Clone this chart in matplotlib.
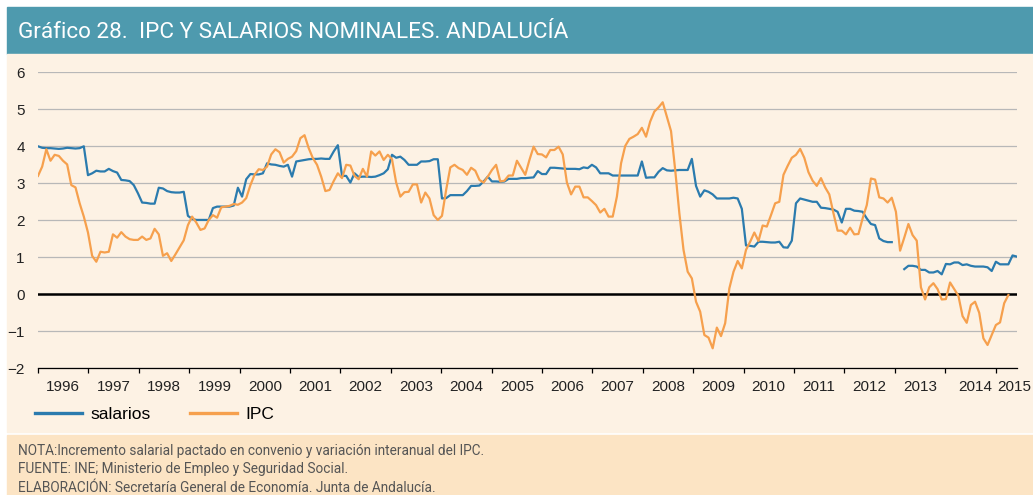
import numpy as np
import matplotlib
matplotlib.use("Agg")
import matplotlib.pyplot as plt
from matplotlib.patches import Rectangle
from matplotlib.lines import Line2D

nan = np.nan

# Incremento salarial pactado en convenio (%), mensual desde enero 1996
salarios = [
    4.00, 3.96, 3.95, 3.95, 3.94, 3.93, 3.94, 3.96, 3.95, 3.94, 3.95, 4.00,
    3.22, 3.27, 3.34, 3.32, 3.32, 3.39, 3.33, 3.29, 3.09, 3.08, 3.06, 2.95,
    2.73, 2.48, 2.47, 2.45, 2.45, 2.88, 2.86, 2.79, 2.76, 2.75, 2.75, 2.77,
    2.12, 2.04, 2.01, 2.01, 2.01, 2.01, 2.33, 2.37, 2.37, 2.37, 2.37, 2.40,
    2.88, 2.64, 3.11, 3.25, 3.24, 3.24, 3.27, 3.54, 3.51, 3.50, 3.47, 3.45,
    3.50, 3.18, 3.59, 3.61, 3.63, 3.65, 3.66, 3.66, 3.67, 3.66, 3.66, 3.86,
    4.03, 3.20, 3.20, 3.02, 3.27, 3.17, 3.18, 3.18, 3.17, 3.18, 3.22, 3.27,
    3.38, 3.77, 3.69, 3.72, 3.63, 3.50, 3.50, 3.50, 3.59, 3.59, 3.60, 3.65,
    3.65, 2.59, 2.60, 2.68, 2.68, 2.68, 2.68, 2.79, 2.93, 2.93, 2.94, 3.05,
    3.18, 3.05, 3.05, 3.04, 3.05, 3.12, 3.12, 3.12, 3.14, 3.14, 3.15, 3.16,
    3.33, 3.25, 3.25, 3.42, 3.42, 3.41, 3.40, 3.39, 3.39, 3.39, 3.38, 3.43,
    3.41, 3.50, 3.43, 3.27, 3.27, 3.27, 3.21, 3.21, 3.21, 3.21, 3.21, 3.21,
    3.21, 3.59, 3.15, 3.16, 3.16, 3.31,
    3.41, 3.35, 3.34, 3.35, 3.36, 3.36, 3.36, 3.66, 2.93, 2.64, 2.81, 2.77,
    2.70, 2.59, 2.59, 2.59, 2.59, 2.61, 2.59, 2.31, 1.32, 1.31, 1.29, 1.42,
    1.42, 1.41, 1.40, 1.40, 1.42, 1.27, 1.26, 1.45, 2.46, 2.59, 2.56, 2.53,
    2.50, 2.50, 2.34, 2.33, 2.31, 2.29, 2.23, 1.94, 2.31, 2.31, 2.26, 2.25,
    2.23, 2.05, 1.90, 1.87, 1.51, 1.44, 1.41, 1.41, nan, nan, 0.68, 0.77,
    0.77, 0.75, 0.66, 0.66, 0.59, 0.59, 0.63, 0.54, 0.82, 0.81, 0.86, 0.86,
    0.79, 0.81, 0.77, 0.75, 0.75, 0.75, 0.73, 0.63, 0.88, 0.81, 0.81, 0.81,
    1.05, 1.02,
]

# Variación interanual del IPC (%)
ipc = [
    3.20, 3.45, 3.92, 3.61, 3.77, 3.74, 3.61, 3.51, 2.95, 2.89, 2.46, 2.10,
    1.67, 1.04, 0.88, 1.15, 1.13, 1.15, 1.62, 1.53, 1.68, 1.56, 1.49, 1.47,
    1.47, 1.56, 1.47, 1.51, 1.77, 1.62, 1.04, 1.11, 0.90, 1.08, 1.27, 1.46,
    1.87, 2.10, 1.94, 1.74, 1.78, 2.01, 2.14, 2.07, 2.35, 2.37, 2.39, 2.44,
    2.42, 2.48, 2.60, 2.95, 3.23, 3.38, 3.36, 3.45, 3.78, 3.92, 3.84, 3.56,
    3.66, 3.72, 3.87, 4.22, 4.30, 3.95, 3.68, 3.50, 3.18, 2.79, 2.82, 3.06,
    3.27, 3.14, 3.50, 3.48, 3.20, 3.11, 3.39, 3.18, 3.86, 3.75, 3.86, 3.63,
    3.77, 3.65, 3.02, 2.64, 2.76, 2.77, 2.97, 2.97, 2.48, 2.75, 2.59, 2.14,
    2.01, 2.12, 2.82, 3.43, 3.50, 3.41, 3.36, 3.23, 3.42, 3.34, 3.09, 3.02,
    3.18, 3.36, 3.50, 3.05, 3.07, 3.21, 3.21, 3.61, 3.42, 3.23, 3.63, 3.99,
    3.79, 3.78, 3.70, 3.90, 3.90, 3.99, 3.78, 3.02, 2.70, 2.91, 2.91, 2.62,
    2.62, 2.52, 2.41, 2.21, 2.31, 2.10, 2.10, 2.64, 3.54, 4.01, 4.20, 4.26,
    4.33, 4.50, 4.26, 4.67, 4.94, 5.05,
    5.19, 4.80, 4.41, 3.36, 2.19, 1.20, 0.61, 0.43, -0.20, -0.47, -1.10, -1.17,
    -1.46, -0.90, -1.13, -0.78, 0.16, 0.61, 0.90, 0.70, 1.20, 1.42, 1.67, 1.44,
    1.86, 1.83, 2.14, 2.46, 2.50, 3.23, 3.47, 3.69, 3.77, 3.93, 3.69, 3.30,
    3.07, 2.93, 3.14, 2.89, 2.70, 2.19, 1.72, 1.72, 1.62, 1.80, 1.62, 1.63,
    2.05, 2.41, 3.13, 3.10, 2.62, 2.59, 2.48, 2.61, 2.23, 1.18, 1.53, 1.90,
    1.60, 1.45, 0.19, -0.14, 0.19, 0.30, 0.14, -0.14, -0.13, 0.32, 0.14, -0.04,
    -0.59, -0.77, -0.29, -0.20, -0.50, -1.19, -1.37, -1.10, -0.83, -0.76, -0.24, -0.02,
    nan, nan,
]

years = list(range(1996, 2016))
year_labels = [str(y) for y in years]
# los dos últimos rótulos van desplazados para no solaparse al final del eje
label_pos = [y + 0.5 for y in years[:-2]] + [2014.6, 2015.38]
y_ticks = list(range(-2, 7))

first_obs, last_obs = 1996.0, 2015.42

BLUE = "#2B7BAE"
ORANGE = "#F6A04D"
TEAL = "#4E9AAE"
CREAM = "#FDF2E4"
PEACH = "#FCE4C4"

W, H = 1033, 495


def fx(px):
    return px / W


def fy(py):
    return 1 - py / H


plt.rcParams['font.family'] = ['Liberation Sans Narrow', 'Liberation Sans', 'DejaVu Sans']

fig = plt.figure(figsize=(W / 100, H / 100), dpi=100)
fig.patch.set_facecolor("white")

# bloques de fondo: cabecera, zona del gráfico y nota al pie
fig.add_artist(Rectangle((fx(6.7), fy(53.5)), 1 - fx(6.7), fy(7.3) - fy(53.5),
                         transform=fig.transFigure, color=TEAL, zorder=0))
fig.add_artist(Rectangle((fx(6.7), fy(432.3)), 1 - fx(6.7), fy(53.5) - fy(432.3),
                         transform=fig.transFigure, color=CREAM, zorder=0))
fig.add_artist(Rectangle((fx(6.7), 0), 1 - fx(6.7), fy(435),
                         transform=fig.transFigure, color=PEACH, zorder=0))

ax = fig.add_axes([fx(38), fy(368.3), fx(1016.7) - fx(38), fy(72.3) - fy(368.3)])
ax.set_facecolor("none")

x = np.linspace(first_obs, last_obs, len(salarios))
ax.plot(x, salarios, color=BLUE, lw=1.6, zorder=3)
ax.plot(x, ipc, color=ORANGE, lw=1.6, zorder=3)
ax.axhline(0, color="black", lw=1.8, zorder=2)

ax.set_xlim(first_obs, last_obs)
ax.set_ylim(-2, 6)
ax.set_yticks(y_ticks)
ax.grid(axis="y", color="#B8B8B8", lw=0.9)
ax.set_axisbelow(True)

for side in ("top", "left", "right"):
    ax.spines[side].set_visible(False)
ax.spines["bottom"].set_color("black")
ax.spines["bottom"].set_linewidth(0.9)

ax.tick_params(axis="y", length=0, pad=9.5, labelsize=11, labelcolor="#222222")
ax.set_xticks(years)
ax.set_xticklabels([])
ax.tick_params(axis="x", which="major", length=3.5, width=0.9, direction="out")
ax.set_xticks(label_pos, minor=True)
ax.set_xticklabels(year_labels, minor=True)
ax.tick_params(axis="x", which="minor", length=0, pad=8.5, labelsize=11,
               labelcolor="#222222")

handles = [Line2D([], [], color=BLUE, lw=2.4), Line2D([], [], color=ORANGE, lw=2.4)]
fig.legend(handles, ["salarios", "IPC"], loc="center left",
           bbox_to_anchor=(fx(35), fy(414.3)), ncol=2, frameon=False,
           fontsize=12.5, handlelength=2.7, handletextpad=0.5,
           columnspacing=2.25, borderpad=0, borderaxespad=0)

fig.text(fx(18.3), fy(32.2), "Gráfico 28.  IPC Y SALARIOS NOMINALES. ANDALUCÍA",
         color="white", fontsize=16.2, family="Roboto", va="center", ha="left")

notes = [
    "NOTA:Incremento salarial pactado en convenio y variación interanual del IPC.",
    "FUENTE: INE; Ministerio de Empleo y Seguridad Social.",
    "ELABORACIÓN: Secretaría General de Economía. Junta de Andalucía.",
]
for py, line in zip([450.7, 469.3, 488.3], notes):
    fig.text(fx(18.3), fy(py), line, color="#555555", fontsize=9.8,
             family="Roboto", va="center", ha="left")

fig.savefig("out.png", dpi=100, facecolor=fig.get_facecolor())
